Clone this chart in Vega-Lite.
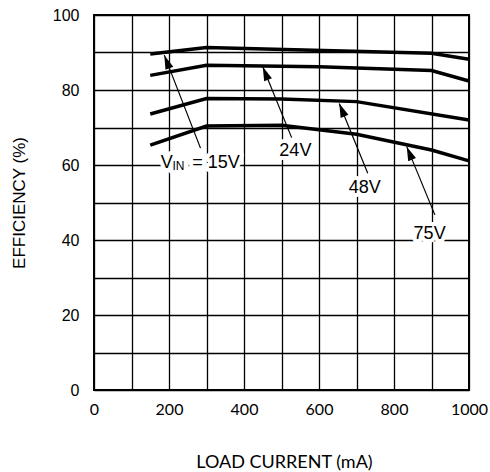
{
  "$schema": "https://vega.github.io/schema/vega-lite/v6.json",
  "width": 375,
  "height": 375,
  "autosize": {"type": "none"},
  "padding": {"left": 94, "top": 15, "right": 21, "bottom": 82},
  "background": "white",
  "config": {
    "view": {"stroke": "black", "strokeWidth": 2},
    "axis": {"gridColor": "black", "gridOpacity": 1, "gridWidth": 1.3, "ticks": false, "domain": false, "labelColor": "black", "titleColor": "black", "titleFontWeight": "normal", "labelFlush": false, "labelOverlap": false}
  },
  "datasets": {
    "curves": [
      {"series": "15V", "current": 150, "eff": 89.6},
      {"series": "15V", "current": 300, "eff": 91.3},
      {"series": "15V", "current": 900, "eff": 89.8},
      {"series": "15V", "current": 1000, "eff": 88.2},
      {"series": "24V", "current": 150, "eff": 83.9},
      {"series": "24V", "current": 300, "eff": 86.6},
      {"series": "24V", "current": 600, "eff": 86.2},
      {"series": "24V", "current": 900, "eff": 85.2},
      {"series": "24V", "current": 1000, "eff": 82.4},
      {"series": "48V", "current": 150, "eff": 73.6},
      {"series": "48V", "current": 300, "eff": 77.7},
      {"series": "48V", "current": 500, "eff": 77.6},
      {"series": "48V", "current": 700, "eff": 76.9},
      {"series": "48V", "current": 1000, "eff": 72.0},
      {"series": "75V", "current": 150, "eff": 65.3},
      {"series": "75V", "current": 300, "eff": 70.4},
      {"series": "75V", "current": 500, "eff": 70.6},
      {"series": "75V", "current": 700, "eff": 68.2},
      {"series": "75V", "current": 900, "eff": 64.0},
      {"series": "75V", "current": 1000, "eff": 61.1}
    ],
    "arrows": [
      {"series": "15V", "x": 284, "y": 64.5, "tx": 187.5, "ty": 89.3},
      {"series": "24V", "x": 527, "y": 67.3, "tx": 450, "ty": 86.2},
      {"series": "48V", "x": 730, "y": 57.8, "tx": 654, "ty": 76.4},
      {"series": "75V", "x": 909, "y": 46.7, "tx": 834, "ty": 64.9}
    ],
    "labels": [
      {"text": "24V", "x": 537, "y": 62.4},
      {"text": "48V", "x": 722, "y": 52.6},
      {"text": "75V", "x": 895, "y": 40.2}
    ],
    "vin_main": [
      {"text": "V", "x": 177.9, "y": 59.2},
      {"text": "= 15V", "x": 262, "y": 59.2}
    ],
    "vin_sub": [
      {"text": "IN", "x": 209, "y": 58.8}
    ]
  },
  "layer": [
    {
      "data": {"name": "curves"},
      "mark": {"type": "line", "color": "black", "strokeWidth": 3.5, "strokeCap": "butt"},
      "encoding": {
        "x": {"field": "current", "type": "quantitative",
          "scale": {"domain": [0, 1000], "nice": false},
          "axis": {"tickCount": 10, "format": "d",
            "labelExpr": "datum.value % 200 === 0 ? datum.label : ''",
            "labelFont": "Lato", "labelFontSize": 16, "labelPadding": 11,
            "title": "LOAD CURRENT (mA)", "titleFont": "Lato", "titleFontSize": 18,
            "titleBaseline": "alphabetic", "titleY": 77, "titleX": 190}},
        "y": {"field": "eff", "type": "quantitative",
          "scale": {"domain": [0, 100], "nice": false},
          "axis": {"tickCount": 10,
            "labelExpr": "datum.value % 20 === 0 ? datum.label : ''",
            "labelFont": "Liberation Sans", "labelFontSize": 16, "labelPadding": 15,
            "title": "EFFICIENCY (%)", "titleFont": "Liberation Sans", "titleFontSize": 17,
            "titleX": -66, "titleY": 187.5}},
        "detail": {"field": "series"}
      }
    },
    {
      "data": {"name": "arrows"},
      "mark": {"type": "rule", "color": "black", "strokeWidth": 1.2},
      "encoding": {
        "x": {"field": "x", "type": "quantitative"},
        "y": {"field": "y", "type": "quantitative"},
        "x2": {"field": "tx"},
        "y2": {"field": "ty"}
      }
    },
    {
      "data": {"name": "arrows"},
      "transform": [
        {"calculate": "atan2((datum.tx - datum.x) * 0.375, (datum.ty - datum.y) * 3.75) * 180 / PI", "as": "ang"}
      ],
      "mark": {"type": "point", "shape": "M0,0L-0.6,2L0.6,2Z", "filled": true, "color": "black", "opacity": 1, "size": 196},
      "encoding": {
        "x": {"field": "tx", "type": "quantitative"},
        "y": {"field": "ty", "type": "quantitative"},
        "angle": {"field": "ang", "type": "quantitative", "scale": null}
      }
    },
    {
      "data": {"name": "labels"},
      "mark": {"type": "text", "font": "Liberation Sans", "fontSize": 18, "align": "center", "baseline": "alphabetic", "stroke": "white", "strokeWidth": 8, "fill": "white", "strokeJoin": "round"},
      "encoding": {
        "x": {"field": "x", "type": "quantitative"},
        "y": {"field": "y", "type": "quantitative"},
        "text": {"field": "text"}
      }
    },
    {
      "data": {"name": "labels"},
      "mark": {"type": "text", "font": "Liberation Sans", "fontSize": 18, "align": "center", "baseline": "alphabetic", "color": "black"},
      "encoding": {
        "x": {"field": "x", "type": "quantitative"},
        "y": {"field": "y", "type": "quantitative"},
        "text": {"field": "text"}
      }
    },
    {
      "data": {"name": "vin_main"},
      "mark": {"type": "text", "font": "Liberation Sans", "fontSize": 18, "align": "left", "baseline": "alphabetic", "stroke": "white", "strokeWidth": 8, "fill": "white", "strokeJoin": "round"},
      "encoding": {
        "x": {"field": "x", "type": "quantitative"},
        "y": {"field": "y", "type": "quantitative"},
        "text": {"field": "text"}
      }
    },
    {
      "data": {"name": "vin_sub"},
      "mark": {"type": "text", "font": "Liberation Sans", "fontSize": 12, "align": "left", "baseline": "alphabetic", "stroke": "white", "strokeWidth": 10, "fill": "white", "strokeJoin": "round"},
      "encoding": {
        "x": {"field": "x", "type": "quantitative"},
        "y": {"field": "y", "type": "quantitative"},
        "text": {"field": "text"}
      }
    },
    {
      "data": {"name": "vin_main"},
      "mark": {"type": "text", "font": "Liberation Sans", "fontSize": 18, "align": "left", "baseline": "alphabetic", "color": "black"},
      "encoding": {
        "x": {"field": "x", "type": "quantitative"},
        "y": {"field": "y", "type": "quantitative"},
        "text": {"field": "text"}
      }
    },
    {
      "data": {"name": "vin_sub"},
      "mark": {"type": "text", "font": "Liberation Sans", "fontSize": 12, "align": "left", "baseline": "alphabetic", "color": "black"},
      "encoding": {
        "x": {"field": "x", "type": "quantitative"},
        "y": {"field": "y", "type": "quantitative"},
        "text": {"field": "text"}
      }
    }
  ]
}
